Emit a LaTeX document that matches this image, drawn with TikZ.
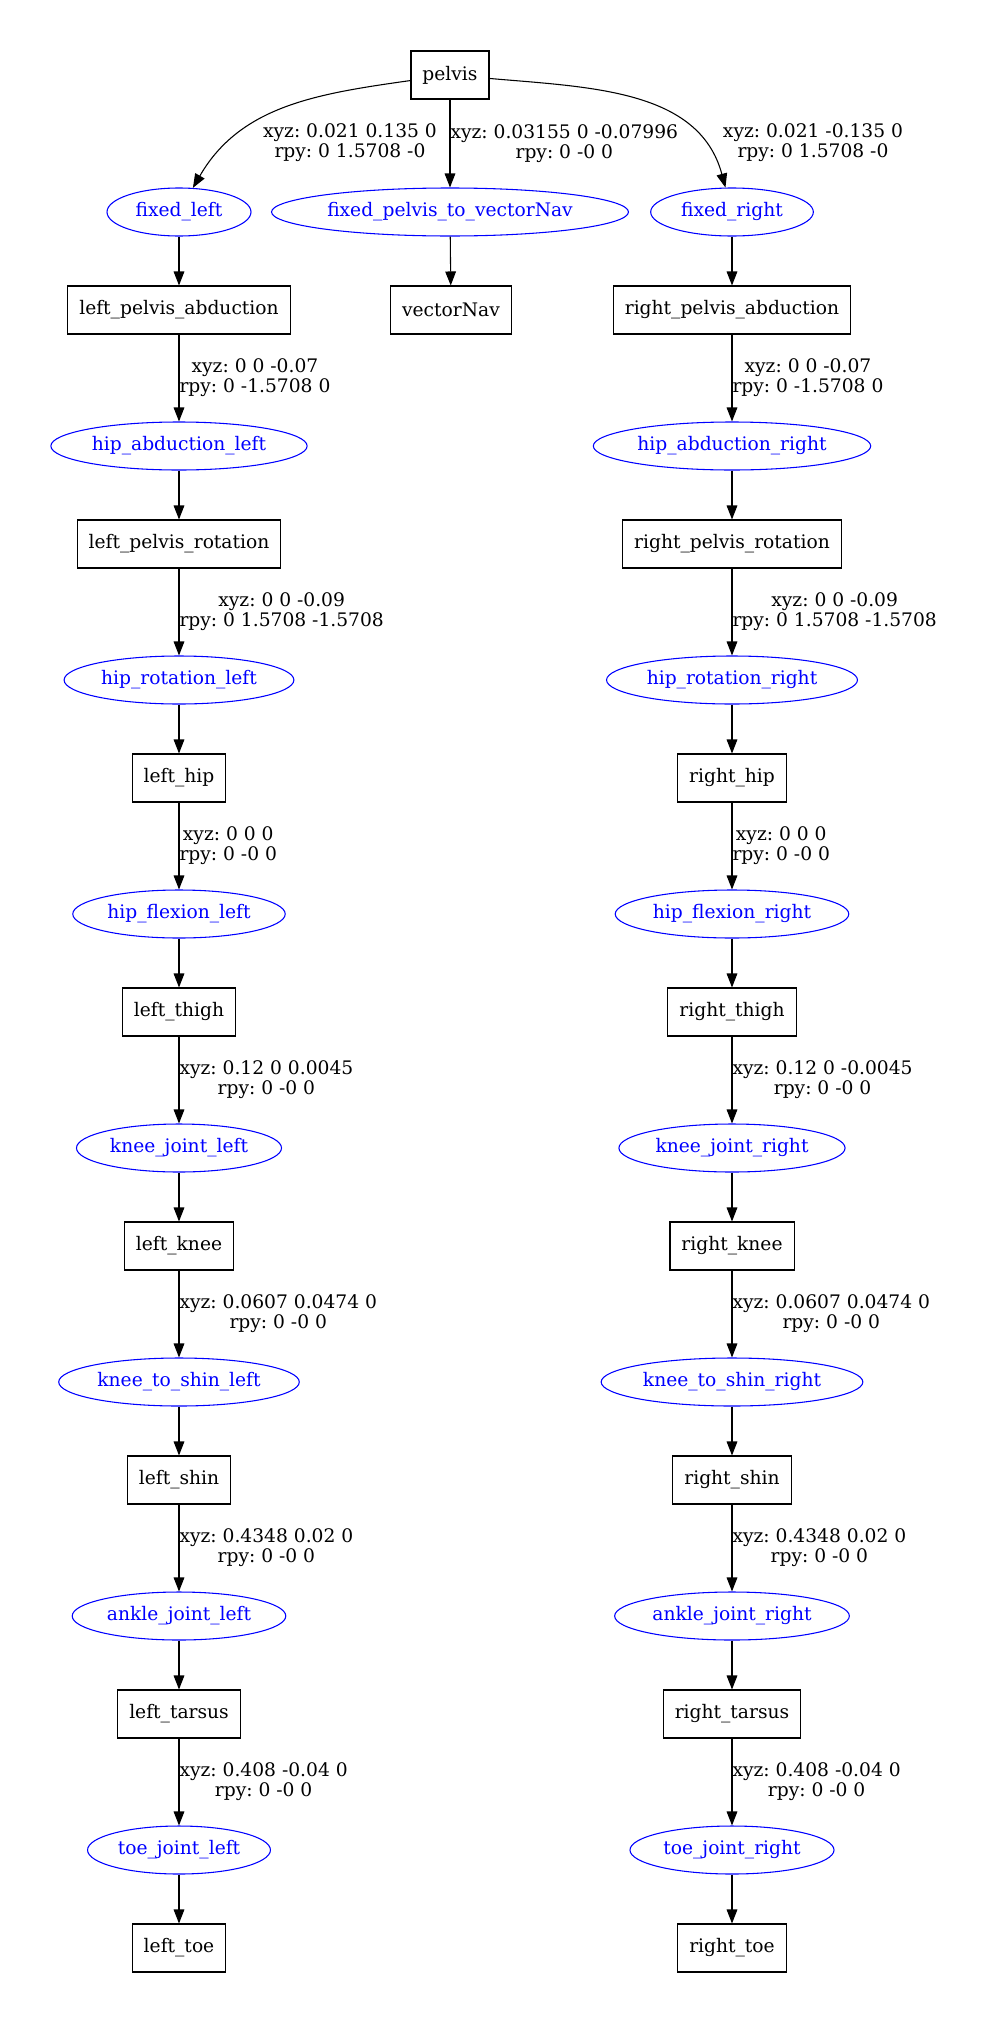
\documentclass[tikz,border=0pt]{standalone}
\usepackage{fontspec}
\setmainfont{DejaVu Serif}
\usepackage{tikz}
\usetikzlibrary{arrows.meta,shapes.geometric}
\definecolor{jointblue}{RGB}{0,0,255}
\frenchspacing

\begin{document}
\begin{tikzpicture}[x=0.75pt,y=0.75pt,
   font=\fontsize{14}{15}\selectfont,
   linkbox/.style={rectangle,draw,line width=0.8pt,minimum height=36pt,minimum width=54pt,inner xsep=8.6pt},
   jointnode/.style={ellipse,draw=jointblue,text=jointblue,line width=0.8pt,minimum height=36pt,inner xsep=2.6pt,inner ysep=2pt},
   tfedge/.style={-{Triangle[length=10.5pt,width=8pt]},line width=0.8pt},
   tflabel/.style={align=center,inner sep=0pt}]
  \useasboundingbox (0,0) rectangle (988,-2020);
  % root and first joints
  \node[linkbox] (pelvis) at (450,-75) {pelvis};
  \node[jointnode,minimum width=108pt] (JL) at (179,-212) {fixed\_left};
  \node[jointnode] (JV) at (450,-212) {fixed\_pelvis\_to\_vectorNav};
  \node[jointnode,minimum width=122pt] (JR) at (732,-212) {fixed\_right};
  \node[linkbox] (vectorNav) at (451,-310) {vectorNav};
  \node[linkbox] (L0) at (179,-310) {left\_pelvis\_abduction};
  \node[linkbox] (R0) at (732,-310) {right\_pelvis\_abduction};
  \draw[tfedge] (pelvis) to[out=188,in=60] (JL);
  \draw[tfedge] (pelvis) -- (JV)
     node[tflabel,midway,anchor=west] (lblV) {xyz: 0.03155 0 -0.07996\\rpy: 0 -0 0};
  \draw[tfedge] (pelvis) to[out=-5,in=105] (JR);
  \node[tflabel] (lblL) at (350,-143) {xyz: 0.021 0.135 0\\rpy: 0 1.5708 -0};
  \node[tflabel] (lblR) at (813,-143) {xyz: 0.021 -0.135 0\\rpy: 0 1.5708 -0};
  \draw[tfedge] (JL) -- (L0);
  \draw[tfedge] (JV) -- (vectorNav);
  \draw[tfedge] (JR) -- (R0);
  % both legs, one row pair per step
  \foreach \k/\lnk/\jnt/\xyzl/\xyzr/\rpy in {
      0/pelvis\_rotation/hip\_abduction/0 0 -0.07/0 0 -0.07/0 -1.5708 0,
      1/hip/hip\_rotation/0 0 -0.09/0 0 -0.09/0 1.5708 -1.5708,
      2/thigh/hip\_flexion/0 0 0/0 0 0/0 -0 0,
      3/knee/knee\_joint/0.12 0 0.0045/0.12 0 -0.0045/0 -0 0,
      4/shin/knee\_to\_shin/0.0607 0.0474 0/0.0607 0.0474 0/0 -0 0,
      5/tarsus/ankle\_joint/0.4348 0.02 0/0.4348 0.02 0/0 -0 0,
      6/toe/toe\_joint/0.408 -0.04 0/0.408 -0.04 0/0 -0 0}{
    \pgfmathtruncatemacro{\nxt}{\k+1}
    \node[jointnode] (JL\k) at (179,-446-234*\k) {\jnt\_left};
    \node[jointnode] (JR\k) at (732,-446-234*\k) {\jnt\_right};
    \node[linkbox] (L\nxt) at (179,-544-234*\k) {left\_\lnk};
    \node[linkbox] (R\nxt) at (732,-544-234*\k) {right\_\lnk};
    \draw[tfedge] (L\k) -- (JL\k)
       node[tflabel,midway,anchor=west] {xyz: \xyzl\\rpy: \rpy};
    \draw[tfedge] (R\k) -- (JR\k)
       node[tflabel,midway,anchor=west] {xyz: \xyzr\\rpy: \rpy};
    \draw[tfedge] (JL\k) -- (L\nxt);
    \draw[tfedge] (JR\k) -- (R\nxt);
  }
\end{tikzpicture}
\end{document}
